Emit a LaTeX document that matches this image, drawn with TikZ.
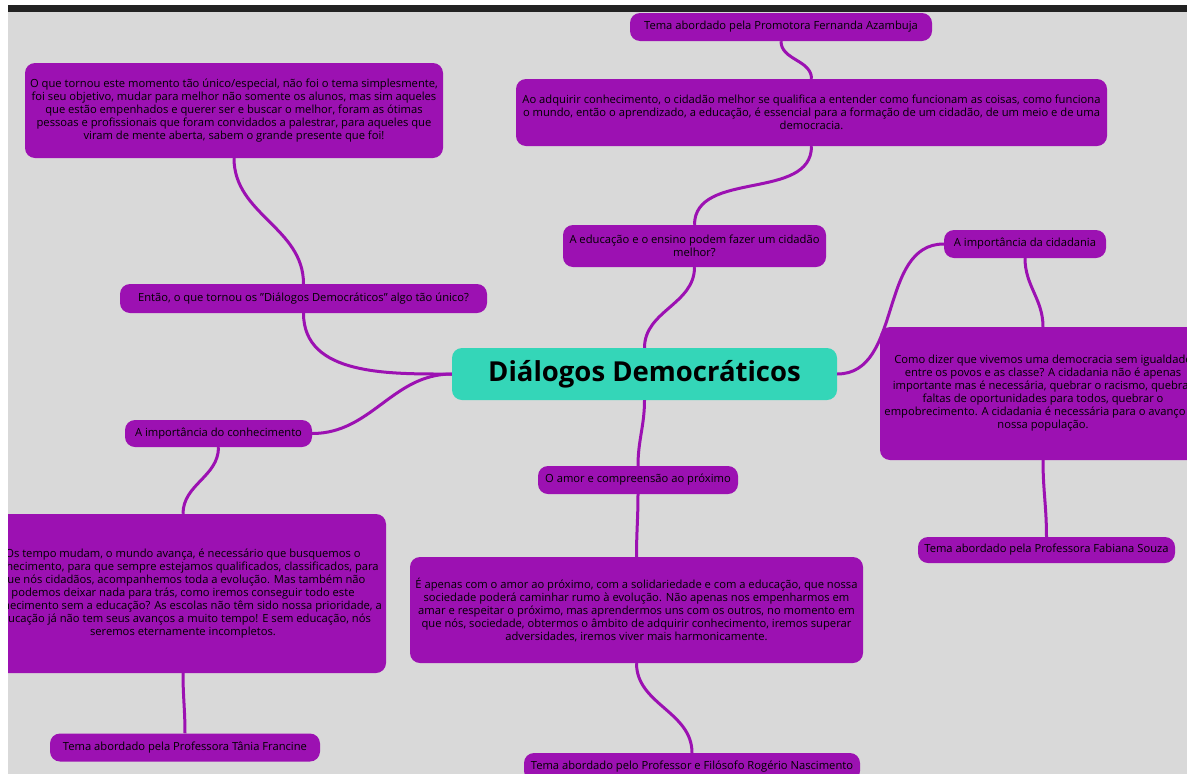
\documentclass[tikz,border=0pt]{standalone}
\usepackage{fontspec}
\setmainfont{Open Sans}
\usepackage{xcolor}
\definecolor{mmpurple}{RGB}{156,17,178}
\definecolor{mmteal}{RGB}{52,214,184}
\definecolor{mmbg}{RGB}{217,217,217}
\definecolor{mmbar}{RGB}{34,34,34}

\begin{document}
\begin{tikzpicture}[
  x=1pt, y=-1pt,
  font=\fontsize{11.2}{13}\selectfont,
  box/.style={rectangle, rounded corners=10pt, fill=mmpurple, inner sep=0pt,
              align=center, text=black},
  lbl/.style={box, minimum height=28pt},
  root/.style={rectangle, rounded corners=10pt, fill=mmteal, inner sep=0pt,
               minimum width=385pt, minimum height=52pt,
               font=\fontsize{27.5}{30}\selectfont\bfseries},
  br/.style={mmpurple, line width=3pt}
]
% screen frame
\clip (0,0) rectangle (1187,774);
\fill[white] (0,0) rectangle (1187,774);
\fill[mmbar] (8,5) rectangle (1187,12);
\begin{scope}
\clip (8,12) rectangle (1187,774);
\fill[mmbg] (8,12) rectangle (1187,774);

% central topic
\node[root] (dd) at (644.5,374) {Diálogos Democráticos};

% upper branch
\node[box, minimum width=263pt, minimum height=42pt] (educ) at (694.5,246)
  {A educação e o ensino podem fazer um cidadão\\melhor?};
\node[box, minimum width=591pt, minimum height=67pt] (adq) at (811.5,112.5)
  {Ao adquirir conhecimento, o cidadão melhor se qualifica a entender como funcionam as coisas, como funciona\\
   o mundo, então o aprendizado, a educação, é essencial para a formação de um cidadão, de um meio e de uma\\
   democracia.};
\node[lbl, minimum width=302pt] (fern) at (781,27)
  {Tema abordado pela Promotora Fernanda Azambuja};

% left branches
\node[lbl, minimum width=367pt, minimum height=29pt] (entao) at (303.5,298.5)
  {Então, o que tornou os "Diálogos Democráticos" algo tão único?};
\node[box, minimum width=418pt, minimum height=95pt] (unico) at (234,110.5)
  {O que tornou este momento tão único/especial, não foi o tema simplesmente,\\
   foi seu objetivo, mudar para melhor não somente os alunos, mas sim aqueles\\
   que estão empenhados e querer ser e buscar o melhor, foram as ótimas\\
   pessoas e profissionais que foram convidados a palestrar, para aqueles que\\
   viram de mente aberta, sabem o grande presente que foi!};

\node[lbl, minimum width=187pt, minimum height=27pt] (conh) at (218.5,433.5)
  {A importância do conhecimento};
\node[box, minimum width=406pt, minimum height=159pt] (tempo) at (183,593.5)
  {Os tempo mudam, o mundo avança, é necessário que busquemos o\\
   conhecimento, para que sempre estejamos qualificados, classificados, para\\
   que nós cidadãos, acompanhemos toda a evolução. Mas também não\\
   podemos deixar nada para trás, como iremos conseguir todo este\\
   conhecimento sem a educação? As escolas não têm sido nossa prioridade, a\\
   educação já não tem seus avanços a muito tempo! E sem educação, nós\\
   seremos eternamente incompletos.};
\node[lbl, minimum width=270pt] (tania) at (185,747.5)
  {Tema abordado pela Professora Tânia Francine};

% right branch
\node[lbl, minimum width=162pt] (cid) at (1025,244)
  {A importância da cidadania};
\node[box, minimum width=326pt, minimum height=133pt] (como) at (1043,393.5)
  {Como dizer que vivemos uma democracia sem igualdade\\
   entre os povos e as classe? A cidadania não é apenas\\
   importante mas é necessária, quebrar o racismo, quebrar\\
   faltas de oportunidades para todos, quebrar o\\
   empobrecimento. A cidadania é necessária para o avanço da\\
   nossa população.};
\node[lbl, minimum width=257pt, minimum height=26pt] (fab) at (1046.5,550)
  {Tema abordado pela Professora Fabiana Souza};

% lower branch
\node[lbl, minimum width=200pt] (amor) at (638,480)
  {O amor e compreensão ao próximo};
\node[box, minimum width=453pt, minimum height=106pt] (apenas) at (636.5,610)
  {É apenas com o amor ao próximo, com a solidariedade e com a educação, que nossa\\
   sociedade poderá caminhar rumo à evolução. Não apenas nos empenharmos em\\
   amar e respeitar o próximo, mas aprendermos uns com os outros, no momento em\\
   que nós, sociedade, obtermos o âmbito de adquirir conhecimento, iremos superar\\
   adversidades, iremos viver mais harmonicamente.};
\node[lbl, minimum width=336pt] (rog) at (692,767)
  {Tema abordado pelo Professor e Filósofo Rogério Nascimento};

% connectors
\draw[br] (dd.north) to[out=90, in=-90] (educ.south);
\draw[br] (educ.north) to[out=90, in=-90] (adq.south);
\draw[br] (adq.north) to[out=90, in=-90] (fern.south);
\draw[br] (dd.west) to[out=180, in=-90] (entao.south);
\draw[br] (entao.north) to[out=90, in=-90] (unico.south);
\draw[br] (dd.west) to[out=180, in=0] (conh.east);
\draw[br] (conh.south) to[out=-90, in=90] (tempo.north);
\draw[br] (tempo.south) to[out=-90, in=90] (tania.north);
\draw[br] (dd.east) to[out=0, in=180] (cid.west);
\draw[br] (cid.south) to[out=-90, in=90] (como.north);
\draw[br] (como.south) to[out=-90, in=90] (fab.north);
\draw[br] (dd.south) to[out=-90, in=90] (amor.north);
\draw[br] (amor.south) to[out=-90, in=90] (apenas.north);
\draw[br] (apenas.south) to[out=-90, in=90] (rog.north);
\end{scope}
\end{tikzpicture}
\end{document}
